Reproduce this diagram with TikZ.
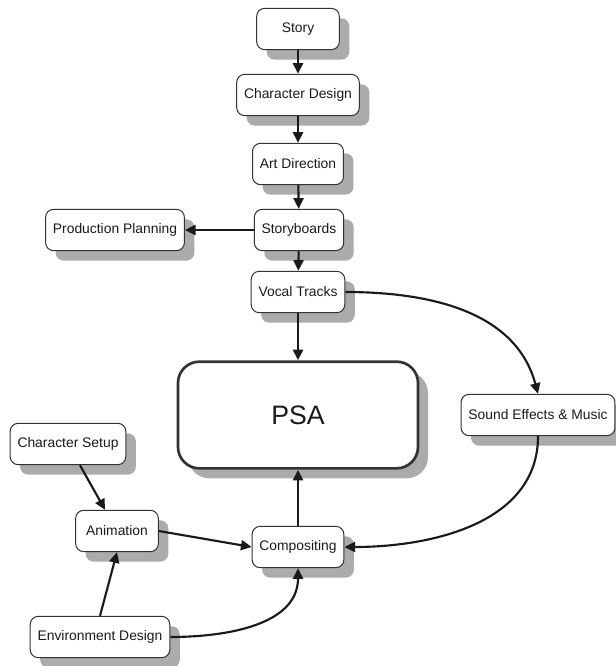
\documentclass[tikz,border=0pt]{standalone}
\usepackage{fontspec}
\setmainfont{Liberation Sans}
\usepackage{xcolor}
\usepackage{tikz}
\usetikzlibrary{arrows.meta,shadows}
\definecolor{boxline}{HTML}{333333}
\definecolor{shade}{HTML}{ABABAB}
\definecolor{ink}{HTML}{1A1A1A}

\begin{document}
\begin{tikzpicture}[x=0.75pt,y=-0.75pt,font=\fontsize{10.4}{12}\selectfont,>={Triangle[length=8pt,width=7.5pt]},
  stage/.style={draw=boxline,line width=0.75pt,fill=white,rounded corners=6pt,text=ink,
    inner xsep=5.5pt,minimum width=62pt,minimum height=31pt,
    drop shadow={shadow xshift=7.5pt,shadow yshift=-7.5pt,fill=shade,opacity=1}},
  flow/.style={->,line width=1.6pt,ink}]
\useasboundingbox (0,0) rectangle (616,666);
% main column
\node[stage] (story) at (298,29) {Story};
\node[stage] (chardes) at (298,95) {Character Design};
\node[stage] (artdir) at (298,164) {Art Direction};
\node[stage] (boards) at (299,230) {Storyboards};
\node[stage] (planning) at (115,230) {Production Planning};
\node[stage] (vocal) at (298,292) {Vocal Tracks};
\node[stage,line width=2pt,rounded corners=16pt,minimum width=180pt,minimum height=80pt,font=\fontsize{20}{24}\selectfont] (psa) at (298,415) {PSA};
\node[stage] (sound) at (538,415) {Sound Effects \& Music};
% lower branch
\node[stage] (setup) at (68,444) {Character Setup};
\node[stage] (anim) at (117,531) {Animation};
\node[stage] (comp) at (298,547) {Compositing};
\node[stage] (envdes) at (100,637) {Environment Design};
\foreach \a/\b in {story/chardes,chardes/artdir,artdir/boards,boards/vocal,vocal/psa}{\draw[flow] (\a) -- (\b);}
\draw[flow] (boards) -- (planning);
\draw[flow] (vocal.east) to[out=0,in=105] (sound.north);
\draw[flow] (sound.south) to[out=-90,in=0] (comp.east);
\draw[flow] (comp) -- (psa);
\draw[flow] (setup) -- (anim);
\draw[flow] (anim.east) -- (comp.west);
\draw[flow] (envdes.north) -- (anim.south);
\draw[flow] (envdes.east) to[out=0,in=-90] (comp.south);
\end{tikzpicture}
\end{document}
